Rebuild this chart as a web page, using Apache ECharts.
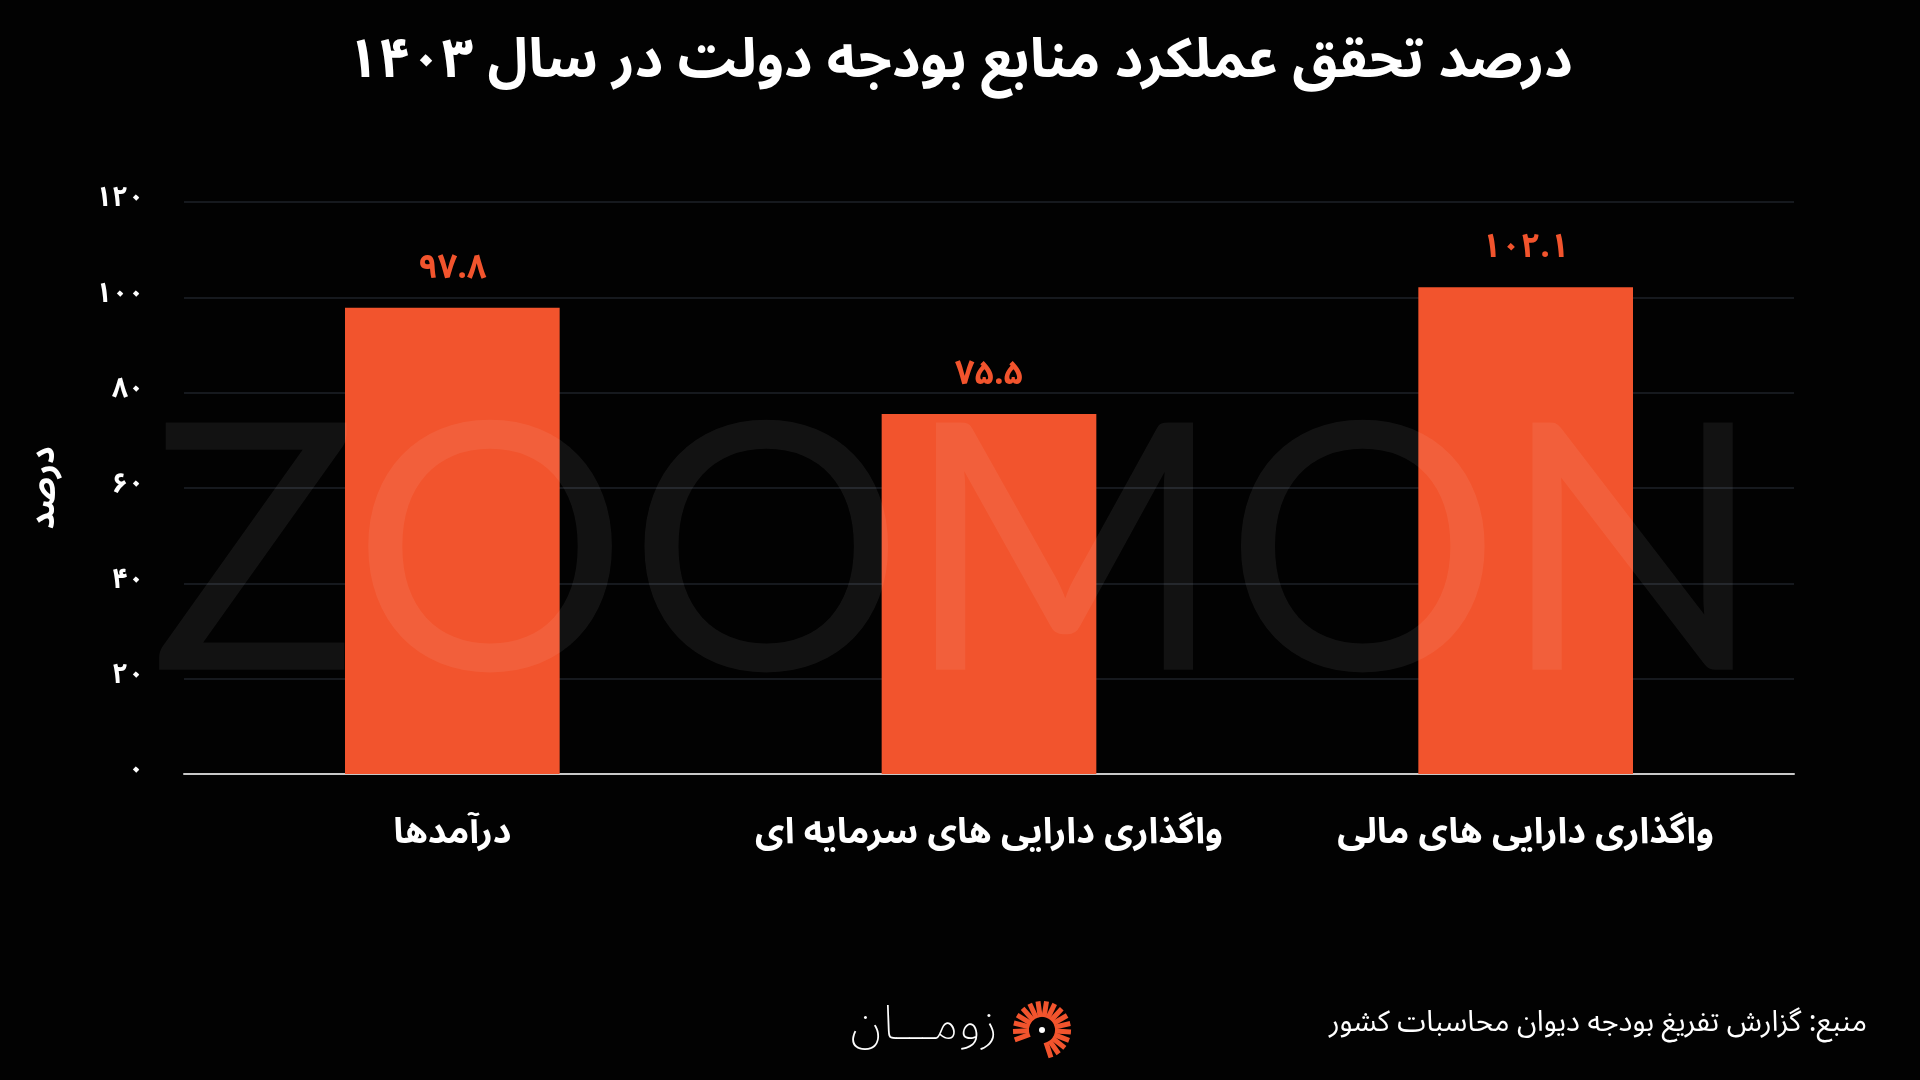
<!DOCTYPE html>
<html>
<head>
<meta charset="utf-8">
<script src="https://cdn.jsdelivr.net/npm/echarts@6/dist/echarts.min.js"></script>
<style>
  html, body { margin: 0; padding: 0; background: #020202; }
  #chart { width: 1920px; height: 1080px; }
</style>
</head>
<body>
<div id="chart"></div>
<script>
const titleText = 'درصد تحقق عملکرد منابع بودجه دولت در سال ۱۴۰۳';
const categories = ['درآمدها', 'واگذاری دارایی های سرمایه ای', 'واگذاری دارایی های مالی'];
const values = [97.8, 75.5, 102.1];
const yName = 'درصد';
const sourceText = 'منبع: گزارش تفریغ بودجه دیوان محاسبات کشور';
const brandText = 'زومـــان';
const watermarkText = 'ZOOMON';

const FONT = "'Noto Sans Arabic', 'DejaVu Sans', sans-serif";
const ORANGE = '#F2542D';

// اعداد فارسی
function toFa(v) {
  return String(v).replace(/\d/g, d => '۰۱۲۳۴۵۶۷۸۹'[d]);
}

const chart = echarts.init(document.getElementById('chart'));

// آیکون لوگو
const rays = [];
const cx = 1042, cy = 1030;
for (let i = 0; i < 17; i++) {
  const a = (-200 + i * 17) * Math.PI / 180;
  rays.push({
    type: 'line',
    shape: {
      x1: cx + Math.cos(a) * 13, y1: cy + Math.sin(a) * 13,
      x2: cx + Math.cos(a) * 29, y2: cy + Math.sin(a) * 29
    },
    style: { stroke: ORANGE, lineWidth: 5 }
  });
}

const option = {
  backgroundColor: '#020202',
  title: {
    text: titleText,
    left: 'center',
    top: 36,
    textStyle: { color: '#fff', fontSize: 55, fontWeight: 'bold', fontFamily: FONT }
  },
  grid: { left: 184, right: 126, top: 202, bottom: 306 },
  xAxis: {
    type: 'category',
    data: categories,
    axisLine: { lineStyle: { color: '#c8c8c8', width: 2 } },
    axisTick: { show: false },
    axisLabel: { interval: 0, color: '#fff', fontSize: 36, fontWeight: 'bold', fontFamily: FONT, margin: 46 }
  },
  yAxis: {
    type: 'value',
    min: 0,
    max: 120,
    interval: 20,
    name: yName,
    nameLocation: 'middle',
    nameGap: 118,
    nameTextStyle: { color: '#fff', fontSize: 34, fontWeight: 'bold', fontFamily: FONT },
    axisLabel: {
      color: '#fff', fontSize: 28, fontWeight: 'bold', fontFamily: FONT, margin: 40,
      formatter: v => toFa(v)
    },
    splitLine: { lineStyle: { color: '#16191e', width: 2 } }
  },
  series: [{
    type: 'bar',
    data: values,
    barWidth: '40%',
    itemStyle: { color: ORANGE },
    label: {
      show: true,
      position: 'top',
      distance: 18,
      color: ORANGE,
      fontSize: 34,
      fontWeight: 'bold',
      fontFamily: FONT,
      formatter: p => toFa(p.value)
    }
  }],
  graphic: [
    {
      type: 'text',
      left: 150,
      top: 386,
      z: 100,
      silent: true,
      style: {
        text: watermarkText,
        fontSize: 345,
        fontWeight: 'normal',
        fontFamily: 'Lato, sans-serif',
        fill: 'rgba(255,255,255,0.065)'
      }
    },
    {
      type: 'text',
      right: 53,
      top: 1012,
      style: { text: sourceText, fontSize: 29, fontFamily: FONT, fill: '#fff' }
    },
    {
      type: 'text',
      left: 850,
      top: 1008,
      style: { text: brandText, fontSize: 48, fontWeight: 200, fontFamily: FONT, fill: '#fff' }
    },
    { type: 'group', children: rays.concat([{
      type: 'circle', shape: { cx: cx, cy: cy, r: 3 }, style: { fill: '#fff' }
    }]) }
  ]
};

chart.setOption(option);
</script>
</body>
</html>
